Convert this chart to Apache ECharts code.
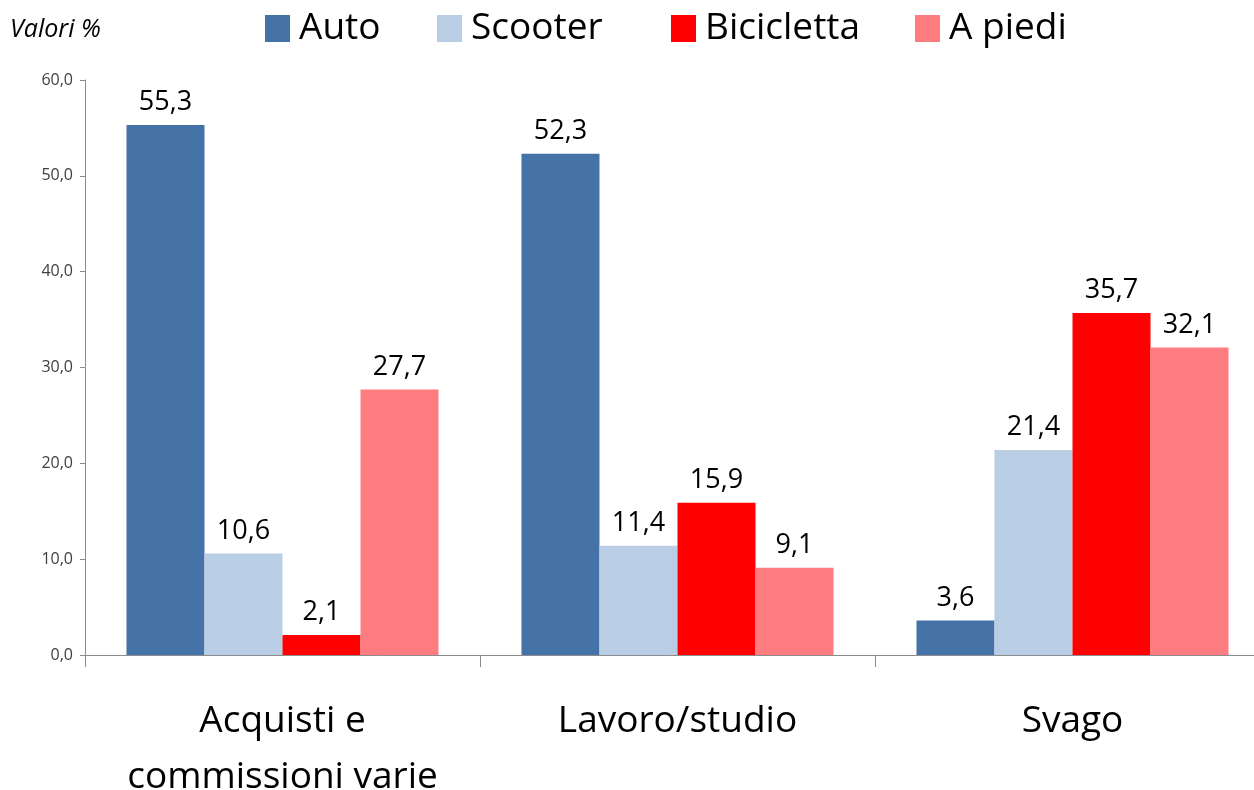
<!DOCTYPE html>
<html>
<head>
<meta charset="utf-8">
<script src="https://cdn.jsdelivr.net/npm/echarts@6/dist/echarts.min.js"></script>
<style>
  html, body { margin: 0; padding: 0; background: #fff; }
  #chart { width: 1254px; height: 790px; }
</style>
</head>
<body>
<div id="chart"></div>
<script>
// dati del grafico
const categories = ['Acquisti e\ncommissioni varie', 'Lavoro/studio', 'Svago'];
const seriesNames = ['Auto', 'Scooter', 'Bicicletta', 'A piedi'];
const auto = [55.3, 52.3, 3.6];
const scooter = [10.6, 11.4, 21.4];
const bicicletta = [2.1, 15.9, 35.7];
const aPiedi = [27.7, 9.1, 32.1];
const colors = ['#4572A7', '#B9CDE5', '#FF0000', '#FF7C80'];
const legendLeft = [265, 437, 671, 915];

const values = [auto, scooter, bicicletta, aPiedi];
const font = '"Open Sans", "Noto Sans", sans-serif';
const fmt = v => v.toFixed(1).replace('.', ',');

const chart = echarts.init(document.getElementById('chart'));

const option = {
    animation: false,
    textStyle: { fontFamily: font },
    graphic: [{
        type: 'text', left: 10, top: 17,
        style: { text: 'Valori %', fontSize: 25, fontStyle: 'italic', fill: '#000', fontFamily: font }
    }],
    legend: seriesNames.map((name, i) => ({
        data: [name],
        left: legendLeft[i],
        top: 10,
        padding: 0,
        itemWidth: 25,
        itemHeight: 27,
        icon: 'rect',
        textStyle: { fontSize: 37, color: '#000', fontFamily: font, padding: [0, 0, 0, 4] }
    })),
    grid: { left: 85, right: -16, top: 80, bottom: 135, containLabel: false, outerBoundsMode: 'none' },
    xAxis: {
        type: 'category',
        data: categories,
        axisLine: { lineStyle: { color: '#8c8c8c' } },
        axisTick: { show: true, length: 12, lineStyle: { color: '#8c8c8c' } },
        axisLabel: { fontSize: 37, color: '#000', margin: 38, lineHeight: 56, interval: 0 }
    },
    yAxis: {
        type: 'value',
        min: 0, max: 60, interval: 10,
        axisLine: { show: true, lineStyle: { color: '#8c8c8c' } },
        axisTick: { show: true, length: 5, lineStyle: { color: '#8c8c8c' } },
        splitLine: { show: false },
        axisLabel: { fontSize: 16, color: '#404040', margin: 12, formatter: v => fmt(v) }
    },
    series: seriesNames.map((name, i) => ({
        name: name,
        type: 'bar',
        data: values[i],
        barGap: '0%',
        barCategoryGap: '21%',
        itemStyle: { color: colors[i] },
        label: {
            show: true, position: 'top', distance: 9,
            fontSize: 27, color: '#000',
            formatter: p => fmt(p.value)
        }
    }))
};

chart.setOption(option);
window.addEventListener('resize', () => chart.resize());
</script>
</body>
</html>
